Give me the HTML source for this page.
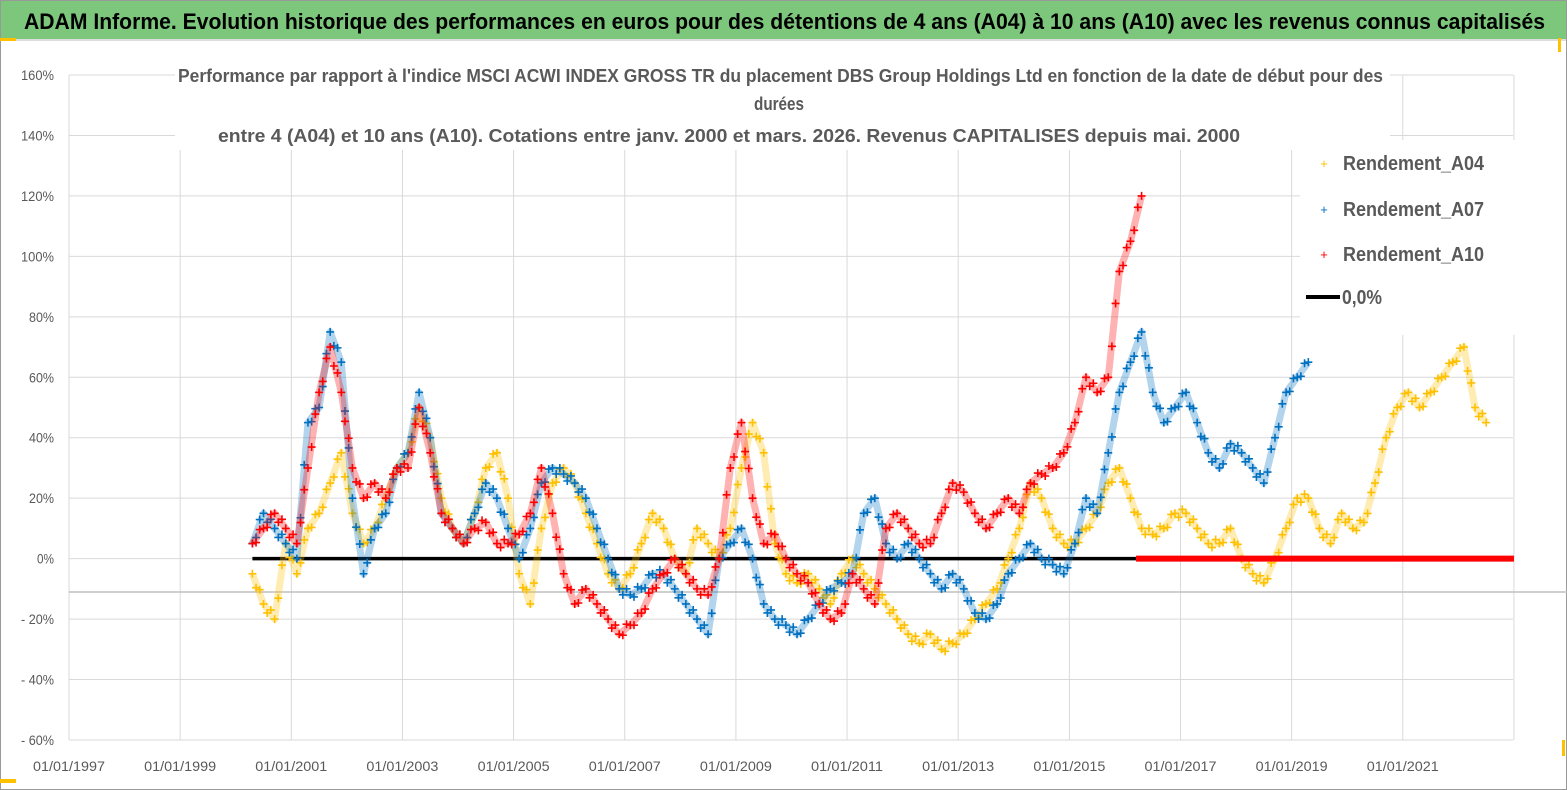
<!DOCTYPE html>
<html><head><meta charset="utf-8">
<style>
html,body{margin:0;padding:0;background:#fff;}
body{width:1567px;height:790px;overflow:hidden;position:relative;font-family:"Liberation Sans",sans-serif;}
#frame{position:absolute;left:0;top:0;width:1565px;height:788px;border:1px solid #999;}
#header{position:absolute;left:1px;top:1px;width:1565px;height:38px;background:#7dc77d;border-bottom:2px solid #ddd;}
</style></head><body>
<div id="frame"></div>
<div id="header"></div>
<svg id="chart" width="1567" height="790" style="position:absolute;left:0;top:0" xmlns="http://www.w3.org/2000/svg"></svg>
<script>
const yTicks=[160,140,120,100,80,60,40,20,0,-20,-40,-60];
const xTickYears=[1997,1999,2001,2003,2005,2007,2009,2011,2013,2015,2017,2019,2021];
const startYear=2000.3;
const stepYear=0.2;
const a04=[-5,-15,-20,5,-5,10,15,25,35,15,5,10,20,30,35,50,40,20,10,5,15,30,35,20,-5,-15,10,25,30,25,15,5,-5,-10,-5,5,15,10,0,-5,10,5,0,10,30,45,35,5,-5,-8,-5,-10,-15,-5,0,-5,-10,-15,-20,-25,-28,-25,-30,-28,-25,-20,-15,-10,0,10,25,20,10,5,5,10,15,25,30,20,10,8,10,15,15,10,5,5,10,0,-5,-8,0,10,20,20,10,5,15,10,12,25,40,50,55,50,55,60,65,70,50,45];
const a07=[5,15,10,5,0,45,50,75,65,20,-5,10,15,30,35,55,40,15,10,5,15,25,20,10,0,10,25,30,28,25,20,10,0,-10,-12,-10,-5,-5,-10,-15,-20,-25,0,5,10,0,-15,-20,-22,-25,-20,-15,-10,-8,-5,15,20,5,0,5,0,-5,-10,-5,-10,-18,-20,-15,-5,0,5,0,-2,-5,5,20,15,35,55,65,75,55,45,50,55,45,35,30,38,35,30,25,40,55,60,65];
const a10=[5,10,15,10,5,30,55,70,55,30,20,25,20,30,30,50,35,15,10,5,10,12,5,5,8,15,30,15,-5,-15,-10,-15,-20,-25,-22,-18,-10,-5,0,-5,-10,-12,0,30,45,20,5,8,0,-5,-8,-15,-20,-18,-5,-10,-15,10,15,10,5,5,15,25,22,15,10,15,20,15,25,28,30,35,45,60,55,60,95,105,120];
const zeroLineStart=2000.3, zeroLineEnd=2016.2, redZeroEnd=2023;

const S='http://www.w3.org/2000/svg';
const svg=document.getElementById('chart');
const X0=69,XPY=111.15/2,Y160=75,YPP=(740-75)/220;
const xs=y=>X0+(y-1997)*XPY;
const ys=v=>Y160+(160-v)*YPP;
const FF='Liberation Sans, sans-serif';
function mk(t,a){const e=document.createElementNS(S,t);for(const k in a)e.setAttribute(k,a[k]);svg.appendChild(e);return e;}
const ht=mk('text',{x:24,y:29,'font-size':22,'font-weight':'bold',fill:'#000','font-family':FF,textLength:1521,lengthAdjust:'spacingAndGlyphs'});
ht.textContent='ADAM Informe. Evolution historique des performances en euros pour des détentions de 4 ans (A04) à 10 ans (A10) avec les revenus connus capitalisés';


// grid
yTicks.forEach(v=>{
 const l=mk('line',{x1:X0,x2:1513,y1:ys(v),y2:ys(v),stroke:'#d9d9d9','stroke-width':1});
 
 
 const lab=v<0?('- '+(-v)+'%'):(v+'%');
 const t=mk('text',{x:54,y:ys(v)+5,'text-anchor':'end','font-size':14,fill:'#595959','font-family':FF,textLength:v===0?17:(v>0&&v<100?25:33),lengthAdjust:'spacingAndGlyphs'});
 t.textContent=lab;
 
 
});
xTickYears.concat([2023]).forEach(yr=>{
 const l=mk('line',{x1:xs(yr),x2:xs(yr),y1:Y160,y2:740,stroke:'#d9d9d9','stroke-width':1});
 
 
});
xTickYears.forEach(yr=>{
 const t=mk('text',{x:xs(yr),y:771,'text-anchor':'middle','font-size':14,fill:'#595959','font-family':FF,textLength:72,lengthAdjust:'spacingAndGlyphs'});
 t.textContent='01/01/'+yr;
 
 
});
const ax=mk('line',{x1:X0,x2:1567,y1:592,y2:592,stroke:'#bfbfbf','stroke-width':1.5});


// title box
const tb=mk('rect',{x:175,y:58,width:1215,height:92,fill:'#fff'});


const lines=["Performance par rapport à l'indice MSCI ACWI INDEX GROSS TR  du placement DBS Group Holdings Ltd en fonction de la date de début pour des","durées","entre 4 (A04) et 10 ans (A10). Cotations entre janv. 2000 et mars. 2026. Revenus CAPITALISES depuis mai. 2000"];
const tx=[178,754,218], tw=[1205,50,1022];
[82,110,142].forEach((yy,i)=>{
 const t=mk('text',{x:tx[i],y:yy,'font-size':18,'font-weight':'bold',fill:'#595959','font-family':FF,textLength:tw[i],lengthAdjust:'spacingAndGlyphs'});
 t.textContent=lines[i];
 
 
});
// legend box
const lb=mk('rect',{x:1300,y:140,width:215,height:195,fill:'#fff'});


// zero line
const zl=mk('line',{x1:xs(zeroLineStart),x2:xs(zeroLineEnd),y1:ys(0),y2:ys(0),stroke:'#000','stroke-width':3.5});


function series(arr,color,name){
 const g=mk('g',{});
 
 
 let d='';
 arr.forEach((v,i)=>{d+=(i?'L':'M')+xs(startYear+i*stepYear)+','+ys(v);});
 const band=document.createElementNS(S,'path');
 band.setAttribute('d',d);band.setAttribute('fill','none');band.setAttribute('stroke',color);
 band.setAttribute('stroke-width',7);band.setAttribute('stroke-opacity',0.3);band.setAttribute('stroke-linejoin','round');
 g.appendChild(band);
 let p='';
 arr.forEach((v,i)=>{
  if(i===arr.length-1){const x=xs(startYear+i*stepYear),y=ys(v);p+='M'+(x-4)+','+y+'h8M'+x+','+(y-4)+'v8';return;}
  const x1=xs(startYear+i*stepYear),y1=ys(v),x2=xs(startYear+(i+1)*stepYear),y2=ys(arr[i+1]);
  [0,0.33,0.66].forEach((f,k)=>{const x=x1+(x2-x1)*f,y=y1+(y2-y1)*f+(k===1?4:k===2?-4:0);p+='M'+(x-4)+','+y+'h8M'+x+','+(y-4)+'v8';});
 });
 const pm=document.createElementNS(S,'path');
 pm.setAttribute('d',p);pm.setAttribute('stroke',color);pm.setAttribute('stroke-width',1.6);pm.setAttribute('fill','none');
 
 
 g.appendChild(pm);
}
series(a04,'#FFC000','series-a04');
series(a07,'#0070C0','series-a07');
series(a10,'#FF0000','series-a10');
const rz=mk('line',{x1:xs(zeroLineEnd),x2:xs(redZeroEnd),y1:ys(0),y2:ys(0),stroke:'#FF0000','stroke-width':6});


// legend
[['Rendement_A04','#FFC000',162],['Rendement_A07','#0070C0',208],['Rendement_A10','#FF0000',253]].forEach(([n,c,yy])=>{
 const m=mk('text',{x:1324,y:yy+6,'font-size':13,fill:c,'text-anchor':'middle','font-family':FF});
 m.textContent='+';
 
 
 const t=mk('text',{x:1343,y:yy+8,'font-size':20,'font-weight':'bold',fill:'#595959','font-family':FF,textLength:141,lengthAdjust:'spacingAndGlyphs'});
 t.textContent=n;
 
 
});
const ll=mk('line',{x1:1306,x2:1340,y1:297,y2:297,stroke:'#000','stroke-width':4});


const lt=mk('text',{x:1342,y:304,'font-size':20,'font-weight':'bold',fill:'#595959','font-family':FF,textLength:40,lengthAdjust:'spacingAndGlyphs'});
lt.textContent='0,0%';


// corner accents
[[0,38,16,3],[0,779,16,4],[1558,38,3,14],[1562,740,3,16]].forEach(([x,y,w,h])=>{
 const r=mk('rect',{x,y,width:w,height:h,fill:'#FFC000'});
 
 
});
</script>
</body></html>
